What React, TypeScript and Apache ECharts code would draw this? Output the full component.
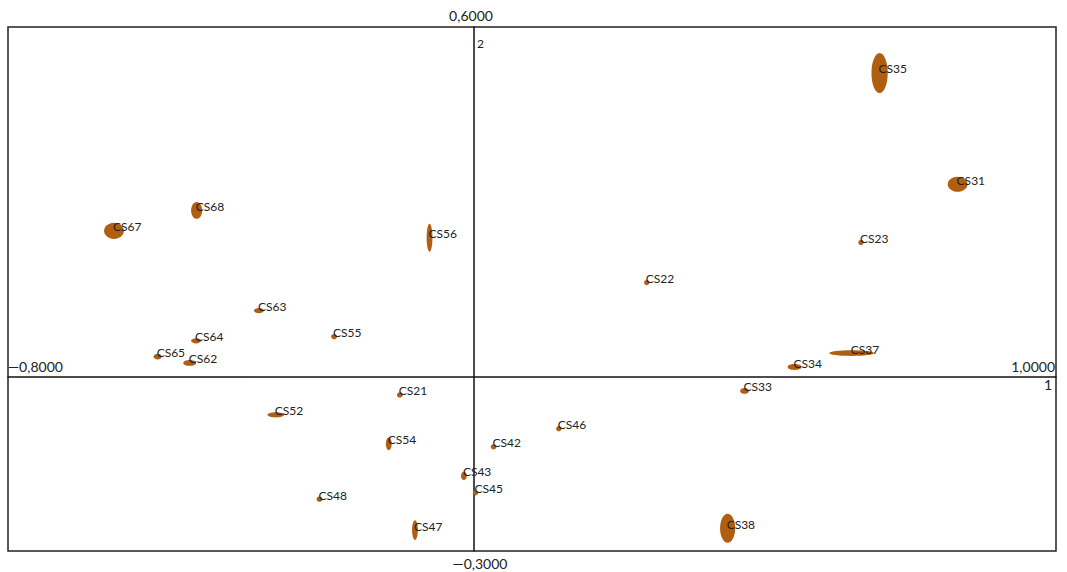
import React, { useEffect, useRef } from "react";
import * as echarts from "echarts";

// Sample names, coordinates (axis 1, axis 2) and ellipse spread (data units)
const names = ["CS35", "CS31", "CS23", "CS22", "CS37", "CS34", "CS33", "CS38", "CS46", "CS42", "CS43", "CS45", "CS47", "CS48", "CS54", "CS21", "CS52", "CS56", "CS67", "CS68", "CS63", "CS55", "CS64", "CS65", "CS62"];
const xs = [0.697, 0.831, 0.665, 0.297, 0.649, 0.551, 0.465, 0.436, 0.146, 0.034, -0.017, 0.003, -0.101, -0.265, -0.146, -0.127, -0.340, -0.076, -0.618, -0.476, -0.369, -0.240, -0.477, -0.543, -0.488];
const ys = [0.521, 0.330, 0.230, 0.161, 0.040, 0.016, -0.025, -0.261, -0.090, -0.121, -0.171, -0.200, -0.264, -0.211, -0.116, -0.032, -0.066, 0.238, 0.250, 0.285, 0.113, 0.068, 0.061, 0.034, 0.023];
const spreadX = [0.028, 0.034, 0.009, 0.009, 0.077, 0.024, 0.015, 0.026, 0.009, 0.010, 0.010, 0.009, 0.010, 0.010, 0.010, 0.010, 0.029, 0.010, 0.034, 0.019, 0.017, 0.010, 0.017, 0.014, 0.022];
const spreadY = [0.069, 0.026, 0.009, 0.009, 0.010, 0.010, 0.010, 0.050, 0.009, 0.009, 0.014, 0.009, 0.034, 0.009, 0.022, 0.009, 0.009, 0.048, 0.028, 0.029, 0.009, 0.009, 0.009, 0.010, 0.010];

const xMin = -0.8;
const xMax = 1.0;
const yMin = -0.3;
const yMax = 0.6;
const xMinLabel = "—0,8000";
const xMaxLabel = "1,0000";
const yMinLabel = "—0,3000";
const yMaxLabel = "0,6000";
const xAxisName = "1";
const yAxisName = "2";

const FILL = "#b05e10";
const FONT = "Lato, 'Open Sans', sans-serif";

export default function App() {
  const ref = useRef<HTMLDivElement>(null);
  useEffect(() => {
    if (!ref.current) return;
    const chart = echarts.init(ref.current, undefined, { renderer: "svg" });
    const data = names.map((n, i) => [xs[i], ys[i], spreadX[i], spreadY[i]]);
    const txt = (text: string, x: number, y: number, align: string, size = 14) => ({
      type: "text",
      x,
      y,
      style: { text, fill: "#222", font: `${size}px ${FONT}`, textAlign: align, textVerticalAlign: "middle" },
      z: 10,
    });
    chart.setOption({
      animation: false,
      backgroundColor: "#fff",
      grid: { left: 8, top: 27, width: 1048, height: 524, show: true, borderColor: "#222", borderWidth: 1.5, backgroundColor: "transparent" },
      xAxis: {
        type: "value", min: xMin, max: xMax,
        axisLine: { show: true, onZero: true, lineStyle: { color: "#111", width: 1.5 } },
        axisTick: { show: false }, axisLabel: { show: false }, splitLine: { show: false },
      },
      yAxis: {
        type: "value", min: yMin, max: yMax,
        axisLine: { show: true, onZero: true, lineStyle: { color: "#111", width: 1.5 } },
        axisTick: { show: false }, axisLabel: { show: false }, splitLine: { show: false },
      },
      series: [
        {
          type: "custom",
          data,
          renderItem: (params: any, api: any) => {
            const c = api.coord([api.value(0), api.value(1)]);
            const s = api.size([api.value(2), api.value(3)]);
            return {
              type: "group",
              children: [
                { type: "ellipse", shape: { cx: c[0], cy: c[1], rx: s[0] / 2, ry: s[1] / 2 }, style: { fill: FILL } },
                {
                  type: "text",
                  x: c[0] - 1,
                  y: c[1] - 4,
                  style: { text: names[params.dataIndex], fill: "#222", font: `12px ${FONT}`, textAlign: "left", textVerticalAlign: "middle" },
                },
              ],
            };
          },
        },
      ],
      graphic: [
        txt(yMaxLabel, 471, 15, "center"),
        txt(yMinLabel, 480, 563, "center"),
        txt(xMinLabel, 8, 366, "left"),
        txt(xMaxLabel, 1055, 366, "right"),
        txt(yAxisName, 477, 43, "left", 12),
        txt(xAxisName, 1052, 384, "right", 14),
      ],
    });
    return () => chart.dispose();
  }, []);
  return <div ref={ref} style={{ position: "fixed", left: 0, top: 0, width: 1067, height: 572 }} />;
}
